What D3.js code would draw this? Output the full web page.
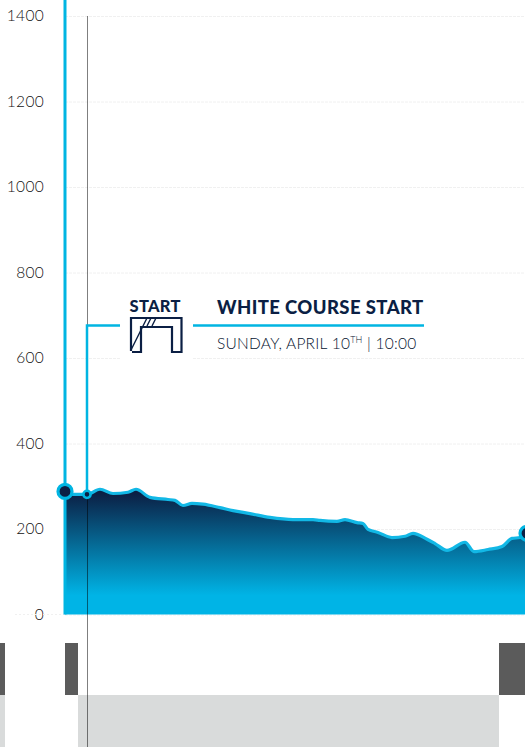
<!DOCTYPE html>
<html><head><meta charset="utf-8">
<script src="https://cdn.jsdelivr.net/npm/d3@7"></script>
<style>html,body{margin:0;padding:0;background:#fff;overflow:hidden}svg{display:block}text{font-family:Lato,sans-serif}</style>
</head><body><div id="c"></div>
<script>
const distanceKm=[0,0.8,2.2,3.5,4.8,6.3,7.1,8.5,10.3,11,11.8,12.7,13.8,15.5,16.8,18.5,20.5,22.8,24.8,25.5,27.2,28,29.2,29.8,30.3,31.3,32.7,34,34.8,36.2,37,38.2,40,40.9,42.3,43.7,44.7,45.5,46.2];
const elevationM=[288,281,281,293,283,286,293,274,269,267,255,260,258,250,243,236,227,222,222,220,218,222,215,213,199,192,180,183,190,176,166,150,169,147,152,159,178,180,190];
const yTicks=[0,200,400,600,800,1000,1200,1400];
const darkSegments=[[-7,-6],[0,1.3],[43.4,46]];
const lightSegments=[[-7,-6],[1.3,43.4]];
const waypointKm=[0,2.2,46.2], waypointM=[288,281,190];
const title="WHITE COURSE START", dateText="SUNDAY, APRIL 10", dateSup="TH", timeText=" | 10:00";
const navy="#0b1f44", blue="#00b5e2";
const W=525,H=747;
const x=d3.scaleLinear().domain([0,46]).range([65,525]);
const y=d3.scaleLinear().domain([0,1400]).range([614.5,16]);
const profile=distanceKm.map((d,i)=>({d,e:elevationM[i]}));
const svg=d3.select("#c").append("svg").attr("width",W).attr("height",H);
const defs=svg.append("defs");
const g=defs.append("linearGradient").attr("id","fill").attr("gradientUnits","userSpaceOnUse").attr("x1",0).attr("x2",0).attr("y1",y(285)).attr("y2",y(45));
g.append("stop").attr("offset",0).attr("stop-color",navy);
g.append("stop").attr("offset",1).attr("stop-color","#00b4e6");
defs.append("clipPath").attr("id","cp").append("rect").attr("width",W).attr("height",H);

// grid + labels
const ax=svg.append("g").attr("transform","translate(65,0)").call(d3.axisLeft(y).tickValues(yTicks).tickFormat(d3.format("d")).tickSize(-(W-65)).tickPadding(21));
ax.select(".domain").remove();
ax.selectAll("line").attr("stroke","#f0f0f0").attr("stroke-width",1).attr("stroke-dasharray","3 1");
ax.selectAll("text").attr("fill","#111").style("font-size","15.5px").style("font-weight",300).style("letter-spacing","0.3px");
svg.append("line").attr("x1",15).attr("x2",65).attr("y1",y(0)).attr("y2",y(0)).attr("stroke","#f0f0f0").attr("stroke-dasharray","2 2");

// course segments
svg.selectAll(".dark").data(darkSegments).enter().append("rect").attr("class","dark")
  .attr("x",d=>x(d[0])).attr("width",d=>x(d[1])-x(d[0])).attr("y",643).attr("height",52).attr("fill","#5b5b5b");
svg.selectAll(".light").data(lightSegments).enter().append("rect").attr("class","light")
  .attr("x",d=>x(d[0])).attr("width",d=>x(d[1])-x(d[0])).attr("y",695).attr("height",52).attr("fill","#d9dbdb");

// area
const area=d3.area().x(d=>x(d.d)).y0(y(0)).y1(d=>y(d.e)).curve(d3.curveMonotoneX);
const line=d3.line().x(d=>x(d.d)).y(d=>y(d.e)).curve(d3.curveMonotoneX);
svg.append("path").datum(profile).attr("d",area).attr("fill","url(#fill)");
svg.append("path").datum(profile).attr("d",line).attr("fill","none").attr("stroke","#12b8e6").attr("stroke-width",3.2);

// vertical guide
svg.append("line").attr("x1",87.5).attr("x2",87.5).attr("y1",16).attr("y2",H).attr("stroke","#000").attr("stroke-opacity",.5).attr("stroke-width",1);
// start vertical
svg.append("line").attr("x1",x(0)).attr("x2",x(0)).attr("y1",0).attr("y2",y(0)).attr("stroke",blue).attr("stroke-width",3);
// leader
svg.append("path").attr("d",`M${x(2.2)},${y(281)}V325.5H120`).attr("fill","none").attr("stroke",blue).attr("stroke-width",2.5);
svg.append("rect").attr("x",120).attr("y",288).attr("width",73).attr("height",75).attr("fill","#fff");
svg.append("line").attr("x1",193).attr("x2",424).attr("y1",325.5).attr("y2",325.5).attr("stroke",blue).attr("stroke-width",2.5);
svg.append("rect").attr("x",193).attr("y",335).attr("width",240).attr("height",20).attr("fill","#fff");

// icon
svg.append("text").attr("x",129.5).attr("y",312).attr("fill",navy).style("font-size","16.5px").style("font-weight",900).style("letter-spacing","0.3px").text("START");
const ic=svg.append("g").attr("fill","none").attr("stroke",navy).attr("stroke-width",2.2);
ic.append("path").attr("d","M131,351V318H181.5V352H172V327H141V352H132");
ic.append("path").attr("d","M131,350L147,318M147,326L151,318M152,326L156,318").attr("stroke-width",1.4);

// text
svg.append("text").attr("x",217).attr("y",314).attr("fill",navy).style("font-size","18.5px").style("font-weight",900).style("letter-spacing","0.4px").text(title);
const t=svg.append("text").attr("x",217).attr("y",349).attr("fill","#04122e").style("font-size","15.5px").style("font-weight",300).style("letter-spacing","0.25px");
t.append("tspan").text(dateText);
t.append("tspan").attr("dy",-6).style("font-size","9px").text(dateSup);
t.append("tspan").attr("dy",6).text(timeText);

// markers
const mk=svg.append("g").attr("clip-path","url(#cp)");
mk.selectAll("circle").data(waypointKm).enter().append("circle")
  .attr("cx",d=>x(d)).attr("cy",(d,i)=>y(waypointM[i])).attr("r",(d,i)=>i===1?3.6:7)
  .attr("fill",navy).attr("stroke",blue).attr("stroke-width",(d,i)=>i===1?2.6:3.2);
</script></body></html>
